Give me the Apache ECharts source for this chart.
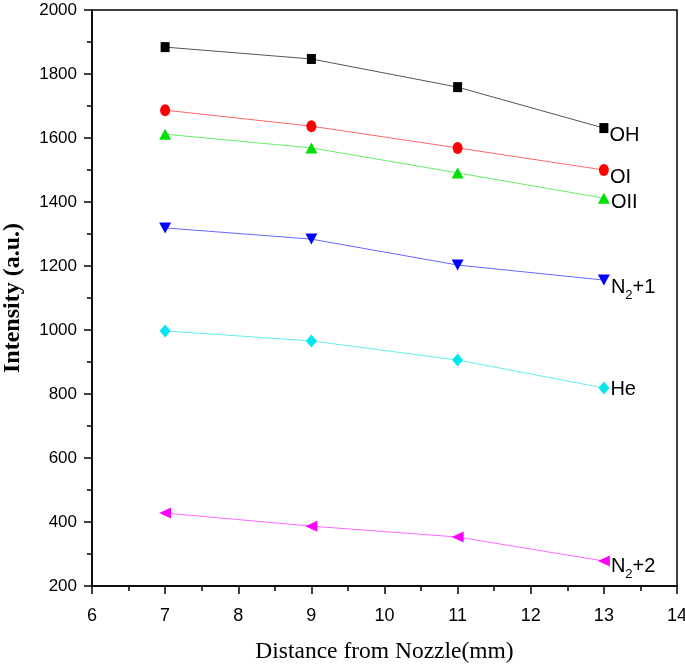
<!DOCTYPE html>
<html><head><meta charset="utf-8">
<script src="https://cdn.jsdelivr.net/npm/echarts@6/dist/echarts.min.js"></script>
<style>html,body{margin:0;padding:0;background:#fff}#c{width:685px;height:668px}</style>
</head><body><div id="c"></div>
<script>
const distances = [7, 9, 11, 13];
const seriesNames = ['OH', 'OI', 'OII', 'N2+1', 'He', 'N2+2'];
const labelTexts = ['OH', 'OI', 'OII', '{n|N}{s|2}{n|+1}', 'He', '{n|N}{s|2}{n|+2}'];
const OH = [1884, 1847, 1759, 1631];
const OI = [1687, 1637, 1569, 1500];
const OII = [1612, 1569, 1491, 1412];
const N2p1 = [1319, 1284, 1203, 1156];
const He = [997, 966, 906, 819];
const N2p2 = [428, 387, 353, 278];
const values = [OH, OI, OII, N2p1, He, N2p2];
const colors = ['#000000', '#ff0000', '#00e000', '#0000ff', '#00e8ee', '#ff00ff'];
const lineColors = ['#555555', '#ff6666', '#66ee66', '#6666ff', '#66eeee', '#ff66ff'];
const symbols = ['rect', 'circle', 'triangle', 'triangle', 'diamond', 'triangle'];
const symbolSizes = [[9, 10], [10, 12], [12, 11], [12, 11], [11, 13], [11, 12]];
const rotations = [0, 0, 0, 180, 0, 90];
const labelOffsets = [[0, 7], [0, 7], [0, 4], [0, 7], [0, 2], [0, 5]];

const chart = echarts.init(document.getElementById('c'));
const series = values.map((v, i) => ({
  name: seriesNames[i],
  type: 'line',
  data: v.map((y, j) => [distances[j], y]),
  symbol: symbols[i],
  symbolSize: symbolSizes[i],
  symbolRotate: rotations[i],
  showAllSymbol: true,
  itemStyle: {color: colors[i]},
  lineStyle: {color: lineColors[i], width: 1},
  label: {
    show: true,
    position: 'right',
    distance: 1,
    formatter: p => p.dataIndex === v.length - 1 ? labelTexts[i] : '',
    fontFamily: 'Liberation Sans',
    fontSize: 20,
    color: '#000',
    offset: labelOffsets[i],
    rich: {
      n: {fontFamily: 'Liberation Sans', fontSize: 20, color: '#000'},
      s: {fontFamily: 'Liberation Sans', fontSize: 13, color: '#000', padding: [16, 0, 0, 0]}
    }
  },
  emphasis: {disabled: true},
  animation: false
}));

chart.setOption({
  animation: false,
  grid: {left: 92, right: 8, top: 10, bottom: 82, outerBoundsMode: 'none', containLabel: false,
         show: true, borderColor: '#000', borderWidth: 1.5, backgroundColor: 'transparent'},
  xAxis: {
    type: 'value', min: 6, max: 14, interval: 1,
    name: 'Distance from Nozzle(mm)', nameLocation: 'middle', nameGap: 54,
    nameTextStyle: {fontFamily: 'Liberation Serif', fontSize: 23.5, color: '#000'},
    axisLine: {show: true, lineStyle: {color: '#000', width: 1.5}},
    axisTick: {show: true, inside: false, length: 8, lineStyle: {color: '#000', width: 1.5}},
    minorTick: {show: true, splitNumber: 2, length: 5, lineStyle: {color: '#000', width: 1.5}},
    splitLine: {show: false},
    axisLabel: {fontFamily: 'Liberation Sans', fontSize: 18, color: '#000', margin: 21,
                formatter: v => String(v)}
  },
  yAxis: {
    type: 'value', min: 200, max: 2000, interval: 200,
    name: 'Intensity (a.u.)', nameLocation: 'middle', nameGap: 67,
    nameTextStyle: {fontFamily: 'Liberation Serif', fontSize: 24, fontWeight: 'bold', color: '#000'},
    axisLine: {show: true, lineStyle: {color: '#000', width: 1.5}},
    axisTick: {show: true, inside: false, length: 8, lineStyle: {color: '#000', width: 1.5}},
    minorTick: {show: true, splitNumber: 2, length: 5, lineStyle: {color: '#000', width: 1.5}},
    splitLine: {show: false},
    axisLabel: {fontFamily: 'Liberation Sans', fontSize: 17, color: '#000', margin: 15,
                formatter: v => String(v)}
  },
  series: series
});
</script></body></html>
